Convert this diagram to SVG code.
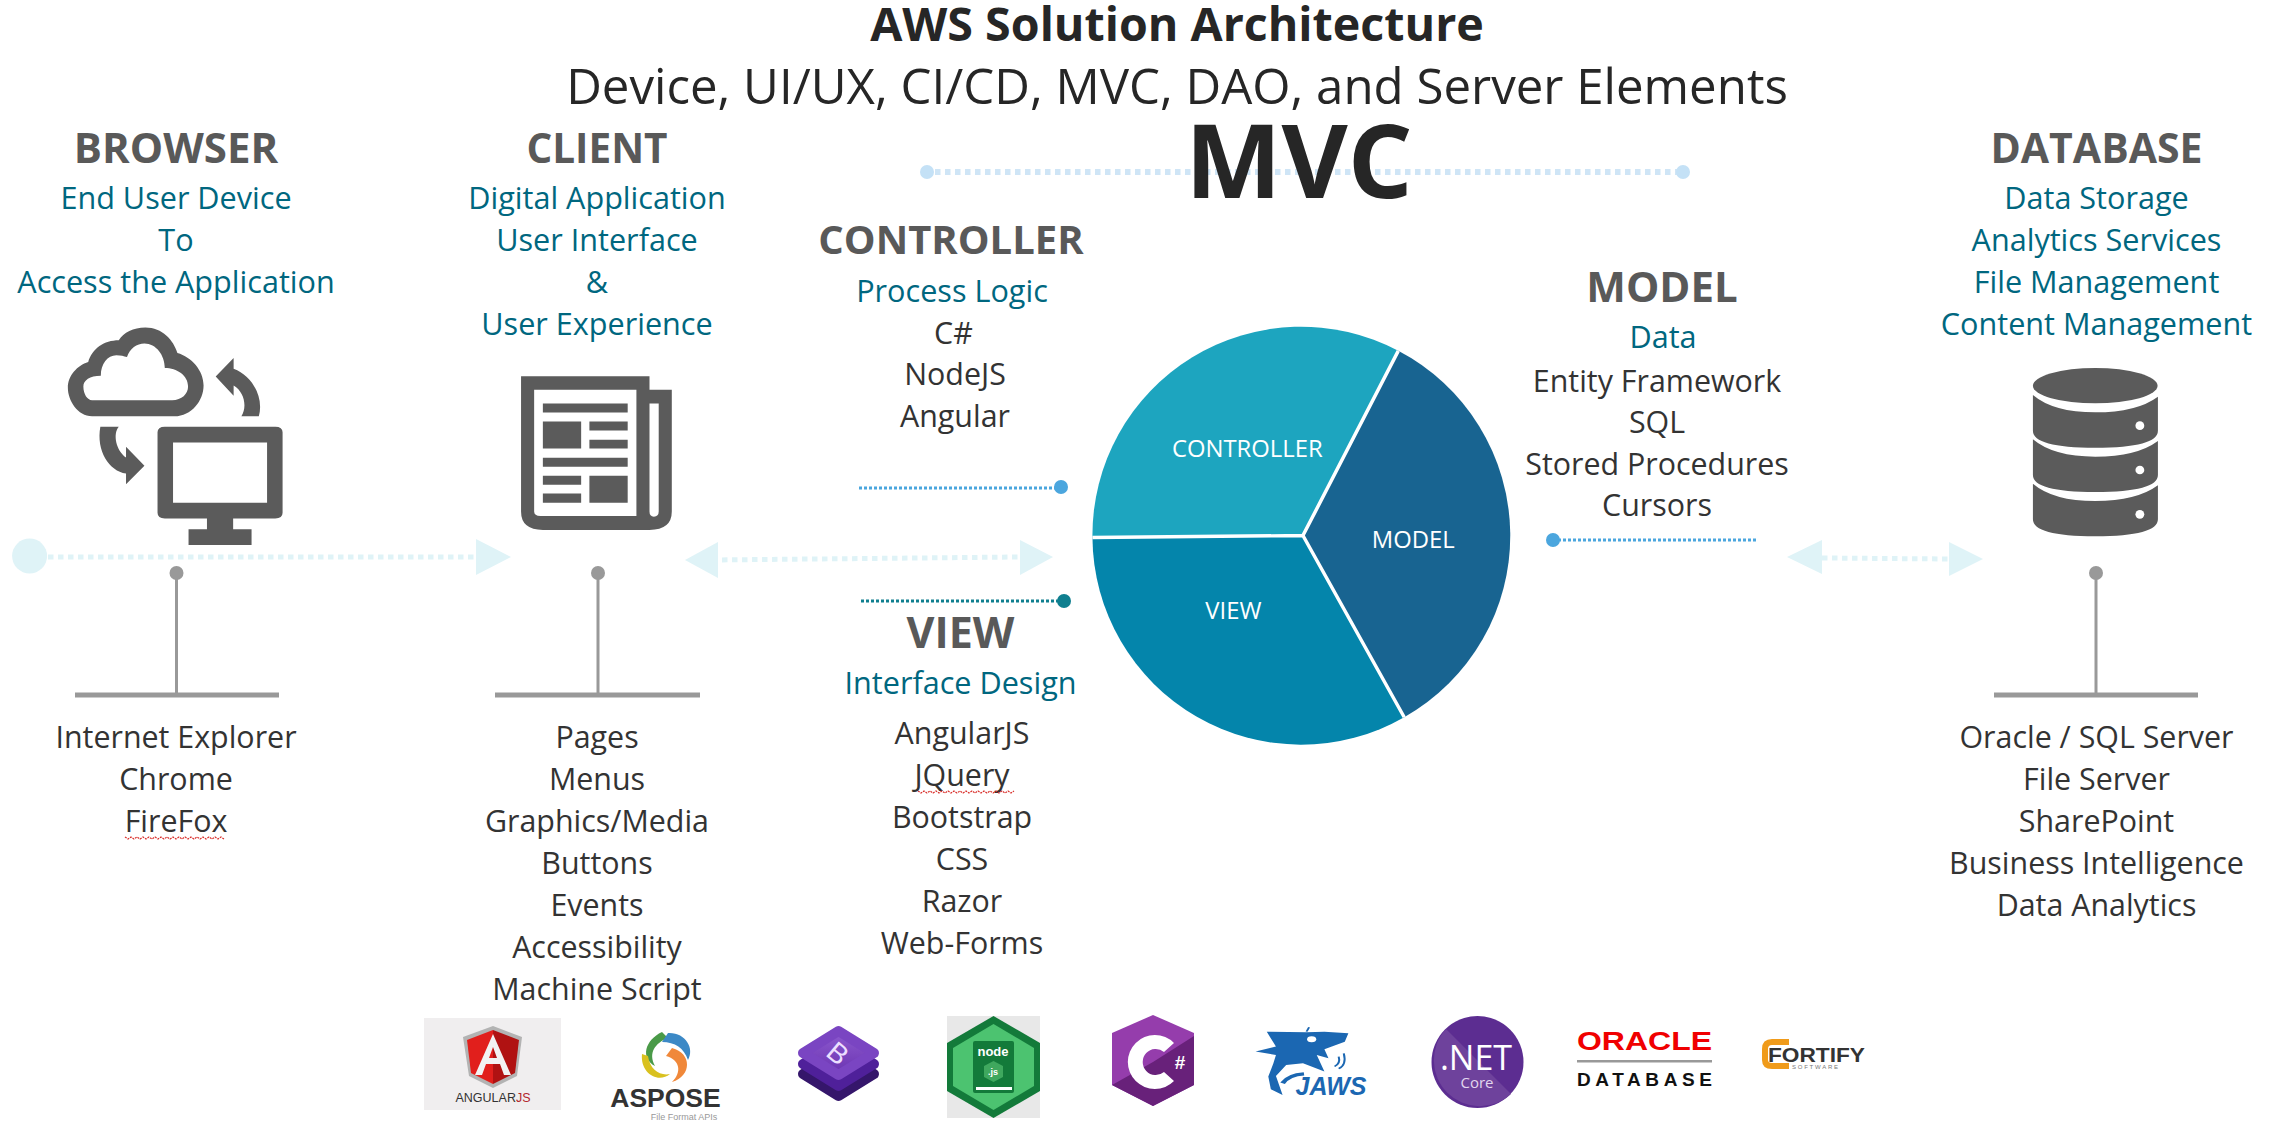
<svg xmlns="http://www.w3.org/2000/svg" width="2274" height="1142" viewBox="0 0 2274 1142">
<style>
text{font-family:"Open Sans","Noto Sans","DejaVu Sans",sans-serif;text-anchor:middle}
.h{font-size:41px;font-weight:700;fill:#595959}
.t{font-size:30.6px;fill:#00677f}
.b{font-size:30.4px;fill:#333}
.icon{fill:#5b5b5b}
.w{fill:#fff}
.pin{fill:#999}
.pinl{stroke:#999;stroke-width:3;fill:none}
.pinb{stroke:#999;stroke-width:5;fill:none}
.dl{stroke:#dff3f7;stroke-width:5;stroke-dasharray:5.5 4.5;fill:none}
.da{fill:#dff3f7}
.sq{stroke:#d9302c;stroke-width:1.2;fill:none;stroke-dasharray:2 1}
.pl{font-size:24px;fill:#fff}
.ls{font-family:"Liberation Sans",sans-serif}
</style>
<defs>
<linearGradient id="bs" x1="0" y1="0" x2="0" y2="1"><stop offset="0" stop-color="#8e5bd0"/><stop offset="1" stop-color="#6a33b0"/></linearGradient>
</defs>
<rect width="2274" height="1142" fill="#fff"/>

<g id="connectors">
<circle class="da" cx="29.6" cy="556" r="17.5"/>
<line class="dl" x1="48" y1="557" x2="476" y2="557"/>
<polygon class="da" points="476,539 511,557 476,575"/>
<polygon class="da" points="685,560 718,542 718,578"/>
<line class="dl" x1="712" y1="560" x2="1020" y2="557"/>
<polygon class="da" points="1020,540 1053,557 1020,575"/>
<polygon class="da" points="1787,557 1822,540 1822,574"/>
<line class="dl" x1="1822" y1="558" x2="1949" y2="559"/>
<polygon class="da" points="1949,542 1983,559 1949,576"/>
<line x1="925" y1="172" x2="1686" y2="172" stroke="#cfe5f6" stroke-width="6" stroke-dasharray="5.5 4.5"/>
<circle cx="933" cy="172" r="7" fill="#c4e1f6" transform="translate(-6,0)"/>
<circle cx="1689" cy="172" r="7" fill="#c4e1f6" transform="translate(-6,0)"/>
<line x1="859" y1="488" x2="1057" y2="488" stroke="#4ba6de" stroke-width="3" stroke-dasharray="3 2"/>
<circle cx="1061" cy="487" r="7" fill="#4ba6de"/>
<line x1="861" y1="601" x2="1061" y2="601" stroke="#0f7f8f" stroke-width="3" stroke-dasharray="3 2"/>
<circle cx="1064" cy="601" r="7" fill="#0f7f8f"/>
<line x1="1553" y1="540" x2="1758" y2="540" stroke="#4ba6de" stroke-width="3" stroke-dasharray="3 2"/>
<circle cx="1553" cy="540" r="7" fill="#4ba6de"/>
</g>

<g id="title">
<text x="1177" y="41" style="font-size:46.6px;font-weight:700;fill:#262626">AWS Solution Architecture</text>
<text x="1177" y="104" style="font-size:49.2px;fill:#262626">Device, UI/UX, CI/CD, MVC, DAO, and Server Elements</text>
<text x="1299" y="198" style="font-size:102px;font-weight:700;fill:#262626">MVC</text>
</g>

<g id="browser">
<text class="h" x="176" y="163" style="font-size:42px">BROWSER</text>
<text class="t" x="176" y="208.5">End User Device</text>
<text class="t" x="176" y="250.5">To</text>
<text class="t" x="176" y="292.5">Access the Application</text>
<g transform="translate(0,300) scale(.4847,.335)">
<path class="icon" fill-rule="evenodd" d="M190,347C160,347 140,300 140,262C140,225 160,195 182,185C190,145 215,120 245,120C255,97 275,82 300,82C335,82 358,120 366,158C395,170 420,210 420,255C420,300 395,347 360,347ZM190,299C180,299 172,280 172,258C172,240 185,226 208,226C208,190 222,165 240,165C250,165 255,168 262,170C268,145 282,130 298,130C322,130 340,165 340,203C365,203 388,225 388,258C388,280 375,299 355,299Z"/>
<path class="icon" d="M445,228L482,173V205C520,225 545,290 534,347H498C510,320 505,275 482,255V286Z"/>
<path class="icon" d="M207,378H245C232,400 240,450 260,470V438L298,495L260,550V518C225,510 198,450 207,378Z"/>
<path class="icon" fill-rule="evenodd" d="M340,378H568Q583,378 583,395V635Q583,652 568,652H481V684H519V731H389V684H427V652H340Q325,652 325,635V395Q325,378 340,378ZM357,425V605H551V425Z"/>
</g>
<circle class="pin" cx="176.5" cy="573" r="7"/>
<line class="pinl" x1="176.5" y1="577" x2="176.5" y2="694"/>
<line class="pinb" x1="75" y1="695" x2="279" y2="695"/>
<text class="b" x="176" y="748">Internet Explorer</text>
<text class="b" x="176" y="790">Chrome</text>
<text class="b" x="176" y="832">FireFox</text>
<path class="sq" d="M125,837l3,2 3,-2 3,2 3,-2 3,2 3,-2 3,2 3,-2 3,2 3,-2 3,2 3,-2 3,2 3,-2 3,2 3,-2 3,2 3,-2 3,2 3,-2 3,2 3,-2 3,2 3,-2 3,2 3,-2 3,2 3,-2 3,2 3,-2 3,2 3,-2 3,2"/>
</g>

<g id="client">
<text class="h" x="597" y="163" style="font-size:40.5px">CLIENT</text>
<text class="t" x="597" y="208.5">Digital Application</text>
<text class="t" x="597" y="250.5">User Interface</text>
<text class="t" x="597" y="292.5">&amp;</text>
<text class="t" x="597" y="334.5">User Experience</text>
<g transform="translate(0,298) scale(.4847,.339)">
<path class="icon" fill-rule="evenodd" d="M1075,231H1340V271H1386V630Q1386,684 1340,684H1120Q1075,684 1075,630ZM1102,271V630Q1102,643 1115,643H1313V271ZM1340,311V630Q1340,645 1349,645Q1359,645 1359,630V311Z"/>
<path class="icon" d="M1120,311h175v27h-175zM1120,364h79v80h-79zM1216,364h79v27h-79zM1216,418h79v26h-79zM1120,471h175v27h-175zM1120,524h79v27h-79zM1216,524h79v80h-79zM1120,577h79v27h-79z"/>
</g>
<circle class="pin" cx="598" cy="573" r="7"/>
<line class="pinl" x1="598" y1="577" x2="598" y2="694"/>
<line class="pinb" x1="495" y1="695" x2="700" y2="695"/>
<text class="b" x="597" y="747.5">Pages</text>
<text class="b" x="597" y="789.5">Menus</text>
<text class="b" x="597" y="831.5">Graphics/Media</text>
<text class="b" x="597" y="873.5">Buttons</text>
<text class="b" x="597" y="915.5">Events</text>
<text class="b" x="597" y="957.5">Accessibility</text>
<text class="b" x="597" y="999.5">Machine Script</text>
</g>

<g id="controller">
<text class="h" x="951" y="254" style="font-size:40px">CONTROLLER</text>
<text class="t" x="952" y="301.5">Process Logic</text>
<text class="b" x="953.5" y="344">C#</text>
<text class="b" x="955" y="385">NodeJS</text>
<text class="b" x="955" y="427">Angular</text>
</g>

<g id="view">
<text class="h" x="960.5" y="648" style="font-size:43px">VIEW</text>
<text class="t" x="960.5" y="694">Interface Design</text>
<text class="b" x="962" y="743.5">AngularJS</text>
<text class="b" x="962" y="785.5">JQuery</text>
<path class="sq" d="M918,791l3,2 3,-2 3,2 3,-2 3,2 3,-2 3,2 3,-2 3,2 3,-2 3,2 3,-2 3,2 3,-2 3,2 3,-2 3,2 3,-2 3,2 3,-2 3,2 3,-2 3,2 3,-2 3,2 3,-2 3,2 3,-2 3,2 3,-2 3,2 3,-2"/>
<text class="b" x="962" y="827.5">Bootstrap</text>
<text class="b" x="962" y="869.5">CSS</text>
<text class="b" x="962" y="911.5">Razor</text>
<text class="b" x="962" y="953.5">Web-Forms</text>
</g>

<g id="model">
<text class="h" x="1662" y="302" style="font-size:42px">MODEL</text>
<text class="t" x="1663" y="347.5">Data</text>
<text class="b" x="1657" y="391.5">Entity Framework</text>
<text class="b" x="1657" y="432.5">SQL</text>
<text class="b" x="1657" y="475">Stored Procedures</text>
<text class="b" x="1657" y="516">Cursors</text>
</g>

<g id="pie" transform="translate(-7,-3) translate(1303,334) scale(.993) translate(-1303,-334)">
<path d="M1310,540L1406,354A210,210 0 0 0 1098,542Z" fill="#1da5bf"/>
<path d="M1310,540L1098,542A210,210 0 0 0 1412,723Z" fill="#0485ab"/>
<path d="M1310,540L1412,723A210,210 0 0 0 1406,354Z" fill="#186491"/>
<path d="M1406,354L1310,540L1412,723M1310,540L1098,542" stroke="#fff" stroke-width="3.5" fill="none"/>
<text class="pl" x="1254" y="460.5">CONTROLLER</text>
<text class="pl" x="1421" y="553">MODEL</text>
<text class="pl" x="1240" y="624">VIEW</text>
</g>

<g id="database">
<text class="h" x="2096.5" y="163">DATABASE</text>
<text class="t" x="2096.5" y="208.5">Data Storage</text>
<text class="t" x="2096.5" y="250.5">Analytics Services</text>
<text class="t" x="2096.5" y="292.5">File Management</text>
<text class="t" x="2096.5" y="334.5">Content Management</text>
<g transform="translate(1740,340) scale(.3406,.3333)">
<ellipse class="icon" cx="1043" cy="137" rx="183" ry="53"/>
<path class="icon" d="M860,165Q920,217 1043,217Q1165,217 1227,170V272Q1227,323 1043,323Q860,323 860,272Z"/>
<path class="icon" d="M860,298Q920,350 1043,350Q1165,350 1227,303V405Q1227,456 1043,456Q860,456 860,405Z"/>
<path class="icon" d="M860,431Q920,483 1043,483Q1165,483 1227,436V538Q1227,589 1043,589Q860,589 860,538Z"/>
<circle class="w" cx="1174" cy="257" r="13"/><circle class="w" cx="1174" cy="390" r="13"/><circle class="w" cx="1174" cy="523" r="13"/>
</g>
<circle class="pin" cx="2096" cy="573" r="7"/>
<line class="pinl" x1="2096" y1="577" x2="2096" y2="694"/>
<line class="pinb" x1="1994" y1="695" x2="2198" y2="695"/>
<text class="b" x="2096.5" y="747.5">Oracle / SQL Server</text>
<text class="b" x="2096.5" y="789.5">File Server</text>
<text class="b" x="2096.5" y="831.5">SharePoint</text>
<text class="b" x="2096.5" y="873.5">Business Intelligence</text>
<text class="b" x="2096.5" y="915.5">Data Analytics</text>
</g>

<g id="logo-angular">
<rect x="424" y="1018" width="137" height="92" fill="#f0eeef"/>
<polygon points="493,1026 522,1037 517,1076 493,1088 469,1076 463,1037" fill="#b3b3b3"/>
<polygon points="493,1030 493,1084 471,1073 467,1040" fill="#e11f1c"/>
<polygon points="493,1030 519,1040 515,1073 493,1084" fill="#b01212"/>
<path d="M493,1034L475,1075H482L486,1064H500L504,1075H511ZM489,1058L493,1047L497,1058Z" fill="#f2f2f2" fill-rule="evenodd"/>
<text class="ls" x="493" y="1102" style="font-size:12.5px;fill:#333">ANGULAR<tspan fill="#b3272d">JS</tspan></text>
</g>

<g id="logo-aspose">
<path d="M662,1032C645,1040 640,1058 655,1066C648,1053 655,1043 668,1038Z" fill="#4a9a48"/>
<path d="M668,1033C685,1032 695,1048 688,1060C684,1048 675,1042 662,1042Z" fill="#3c89c6"/>
<path d="M672,1048C692,1053 692,1076 672,1082C682,1072 680,1060 666,1056Z" fill="#f0883a"/>
<path d="M642,1054C640,1073 658,1084 670,1074C660,1076 650,1070 648,1056Z" fill="#d9c11f"/>
<text class="ls" x="665.5" y="1107" style="font-size:26.5px;font-weight:700;fill:#333">ASPOSE</text>
<text class="ls" x="684" y="1119.5" style="font-size:9px;fill:#999">File Format APIs</text>
</g>

<g id="logo-bootstrap">
<polygon points="838.5,1052 874,1074 838.5,1096 803,1074" fill="#35166b" stroke="#35166b" stroke-width="10" stroke-linejoin="round"/>
<polygon points="838.5,1042 874,1064 838.5,1086 803,1064" fill="#4f209a" stroke="#4f209a" stroke-width="10" stroke-linejoin="round"/>
<polygon points="838.5,1031 874,1053 838.5,1075 803,1053" fill="url(#bs)" stroke="#7a45c2" stroke-width="10" stroke-linejoin="round"/>
<text class="ls" x="838" y="1063" transform="rotate(40 838 1053)" style="font-size:28px;fill:#ecdfff">B</text>
</g>

<g id="logo-node">
<rect x="947" y="1016" width="93" height="102" fill="#e8e8e8"/>
<polygon points="993.5,1016 1040,1043 1040,1091 993.5,1118 947,1091 947,1043" fill="#137a3a"/>
<polygon points="993.5,1024 1034,1048 1034,1086 993.5,1110 953,1086 953,1048" fill="#4cc370"/>
<rect x="973" y="1041" width="41" height="52" rx="2" fill="#137a3a"/>
<text class="ls" x="993" y="1056" style="font-size:13px;font-weight:700;fill:#fff">node</text>
<polygon points="993.5,1061 1003,1066 1003,1077 993.5,1082 984,1077 984,1066" fill="#3fa85e"/>
<text class="ls" x="993" y="1075" style="font-size:9px;font-weight:700;fill:#fff">.js</text>
<rect x="976" y="1087" width="36" height="3" fill="#fff"/>
</g>

<g id="logo-csharp">
<polygon points="1153,1015 1194,1033 1194,1085 1153,1106 1112,1085 1112,1033" fill="#953dac"/>
<polygon points="1153,1106 1194,1085 1194,1036 1153,1062 1112,1085" fill="#68217a"/>
<path d="M1174,1081A27,27 0 1 1 1174,1043L1164,1052A13,13 0 1 0 1164,1072Z" fill="#fff"/>
<text class="ls" x="1180" y="1069" style="font-size:19px;font-weight:700;fill:#fff">#</text>
</g>

<g id="logo-jaws">
<g transform="translate(1100,1000) scale(.51,.333)">
<path d="M305,155L345,140L327,95L405,97L440,95L487,100L480,125L440,148L448,175L425,165L440,215L398,190L365,195L345,228L358,285L335,268L330,230L340,190L345,165Z" fill="#1b67b2"/>
<circle cx="415" cy="118" r="9" fill="#fff"/>
<path d="M405,95L410,82" stroke="#1b67b2" stroke-width="4" fill="none"/>
<path d="M400,222Q370,225 358,250" stroke="#1b67b2" stroke-width="10" fill="none"/>
<path d="M460,200Q472,190 468,170M468,206Q484,195 478,160" stroke="#1b67b2" stroke-width="4" fill="none"/>
</g>
<text class="ls" x="1331" y="1095" style="font-size:25px;font-weight:700;font-style:italic;fill:#1b67b2">JAWS</text>
</g>

<g id="logo-net">
<circle cx="1477.5" cy="1062" r="46" fill="#5c2d91"/>
<path d="M1446,1029A46,46 0 0 0 1511,1094Z" fill="#6e429c"/>
<text x="1476" y="1070" style="font-size:34px;fill:#fff">.NET</text>
<text x="1477" y="1088" style="font-size:15px;fill:#e2d6ee">Core</text>
</g>

<g id="logo-oracle">
<text class="ls" x="1644.5" y="1050" textLength="135" lengthAdjust="spacingAndGlyphs" style="font-size:26px;font-weight:700;fill:#f00000">ORACLE</text>
<rect x="1577" y="1060" width="135" height="2.5" fill="#999"/>
<text class="ls" x="1644.5" y="1086" textLength="135" style="font-size:19px;font-weight:700;fill:#111">DATABASE</text>
</g>

<g id="logo-fortify">
<path d="M1789,1042H1772Q1765,1042 1765,1049V1060Q1765,1066 1772,1066H1789" fill="none" stroke="#f09b1a" stroke-width="6"/>
<text class="ls" x="1816.5" y="1062" textLength="97" lengthAdjust="spacingAndGlyphs" style="font-size:21px;font-weight:700;fill:#333">FORTIFY</text>
<text class="ls" x="1815" y="1068.5" textLength="46" style="font-size:6px;fill:#777">SOFTWARE</text>
</g>
</svg>
